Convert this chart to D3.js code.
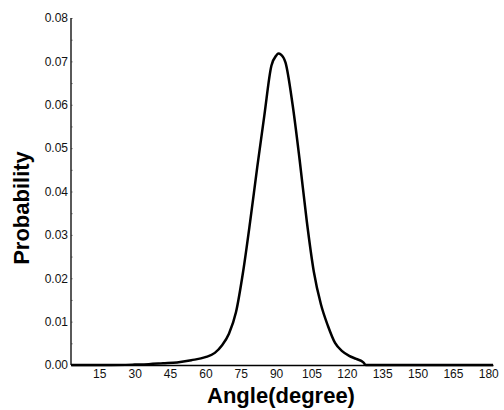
<!DOCTYPE html>
<html>
<head>
<meta charset="utf-8">
<script src="https://cdn.jsdelivr.net/npm/d3@7"></script>
<style>
  html, body { margin: 0; padding: 0; background: #fff; }
  svg { display: block; font-family: Arial, "Liberation Sans", sans-serif; }
</style>
</head>
<body>
<svg id="chart" width="504" height="410"></svg>
<script>
// Data
const angles = [3, 10, 20, 30, 36, 42, 48, 54, 60, 64, 67, 70, 73, 76, 79, 82, 85, 88, 90, 91, 92, 94, 97, 100, 103, 106, 109, 112, 115, 118, 121, 124, 127, 128, 140, 160, 182];
const probabilities = [0, 0, 0, 0.0001, 0.0002, 0.0004, 0.0006, 0.0011, 0.0018, 0.0028, 0.0045, 0.0072, 0.0122, 0.0215, 0.0331, 0.0456, 0.0575, 0.0690, 0.0713, 0.0718, 0.0716, 0.0697, 0.0600, 0.0472, 0.0332, 0.0215, 0.0140, 0.0090, 0.0051, 0.0032, 0.0021, 0.0014, 0.0006, 0, 0, 0, 0];
const xTicks = [15, 30, 45, 60, 75, 90, 105, 120, 135, 150, 165, 180];
const yTicks = [0, 0.01, 0.02, 0.03, 0.04, 0.05, 0.06, 0.07, 0.08];
const yMinorTicks = [0, 0.005, 0.01, 0.015, 0.02, 0.025, 0.03, 0.035, 0.04, 0.045, 0.05, 0.055, 0.06, 0.065, 0.07, 0.075, 0.08];
const xTitle = "Angle(degree)";
const yTitle = "Probability";

const svg = d3.select("#chart");
const x = d3.scaleLinear().domain([3, 182]).range([71, 493]);
const y = d3.scaleLinear().domain([0, 0.08]).range([365, 18]);

// Y axis (line + faint inner ticks)
const yAxis = d3.axisRight(y).tickValues(yMinorTicks).tickSize(2).tickFormat("");
const gy = svg.append("g").attr("transform", `translate(${x(3)},0)`).call(yAxis);
gy.select(".domain").remove();
gy.selectAll(".tick line").attr("stroke", "#aaa");
svg.append("line").attr("x1", x(3)).attr("x2", x(3)).attr("y1", y(0.08)).attr("y2", y(0))
  .attr("stroke", "#000").attr("stroke-width", 1.3);

// Y tick labels
const gyl = svg.append("g").attr("transform", `translate(${x(3)},0)`)
  .call(d3.axisLeft(y).tickValues(yTicks).tickSize(0).tickPadding(3).tickFormat(d3.format(".2f")));
gyl.select(".domain").remove();
gyl.selectAll("text").attr("font-size", 12).attr("fill", "#111").attr("font-family", "Arial, 'Liberation Sans', sans-serif");

// X axis
const gx = svg.append("g").attr("transform", `translate(0,${y(0)})`)
  .call(d3.axisBottom(x).tickValues(xTicks).tickSize(0).tickPadding(4));
gx.select(".domain").attr("stroke", "#000").attr("stroke-width", 1.3);
gx.selectAll("text").attr("font-size", 12).attr("fill", "#111").attr("font-family", "Arial, 'Liberation Sans', sans-serif");

// Curve
const data = angles.map((a, i) => ({a, p: probabilities[i]}));
const line = d3.line().x(d => x(d.a)).y(d => y(d.p)).curve(d3.curveMonotoneX);
svg.append("path").datum(data).attr("d", line)
  .attr("fill", "none").attr("stroke", "#000").attr("stroke-width", 2.5).attr("stroke-linejoin", "round");

// Titles
svg.append("text").attr("x", 281).attr("y", 403).attr("text-anchor", "middle")
  .attr("font-size", 22).attr("font-weight", "bold").text(xTitle);
svg.append("text").attr("transform", "translate(29,208) rotate(-90)").attr("text-anchor", "middle")
  .attr("font-size", 22).attr("font-weight", "bold").text(yTitle);
</script>
</body>
</html>
